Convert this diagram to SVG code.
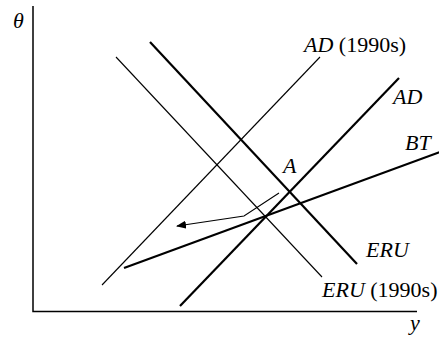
<svg xmlns="http://www.w3.org/2000/svg" width="439" height="339" viewBox="0 0 439 339">
<defs>
<style>
.t{font-family:"Liberation Serif","Times New Roman",serif;font-size:22px;fill:#000}
.i{font-style:italic}
.thin{stroke:#000;stroke-width:1.1;fill:none}
.thick{stroke:#000;stroke-width:2.2;fill:none}
.axis{stroke:#000;stroke-width:1.5;fill:none}
</style>
<marker id="ah" viewBox="0 0 10 8" refX="9" refY="4" markerWidth="10" markerHeight="8" markerUnits="userSpaceOnUse" orient="auto">
<path d="M0,0 L10,4 L0,8 Z" fill="#000"/>
</marker>
</defs>
<rect width="439" height="339" fill="#fff"/>
<g id="axes">
<path class="axis" d="M33,6 V311.5 H417"/>
<text class="t i" x="13" y="28">θ</text>
<text class="t i" x="410" y="330">y</text>
</g>
<g id="connectors">
<line id="eru1990" class="thin" x1="116" y1="57" x2="322" y2="277"/>
<line id="eru" class="thick" x1="150" y1="42" x2="357" y2="264"/>
<line id="ad1990" class="thin" x1="320" y1="57" x2="102" y2="285"/>
<line id="ad" class="thick" x1="399" y1="78" x2="180" y2="306"/>
<line id="bt" class="thick" x1="124" y1="268" x2="440" y2="152"/>
<polyline id="shift" class="thin" points="279,193 244,216 177,226" marker-end="url(#ah)"/>
</g>
<g id="label-ad1990"><text class="t" x="304" y="52"><tspan class="i">AD</tspan> (1990s)</text></g>
<g id="label-ad"><text class="t i" x="393" y="104">AD</text></g>
<g id="label-bt"><text class="t i" x="405" y="150">BT</text></g>
<g id="label-a"><text class="t i" x="283" y="173">A</text></g>
<g id="label-eru"><text class="t i" x="366" y="257">ERU</text></g>
<g id="label-eru1990"><text class="t" x="322" y="297"><tspan class="i">ERU</tspan> (1990s)</text></g>
</svg>
